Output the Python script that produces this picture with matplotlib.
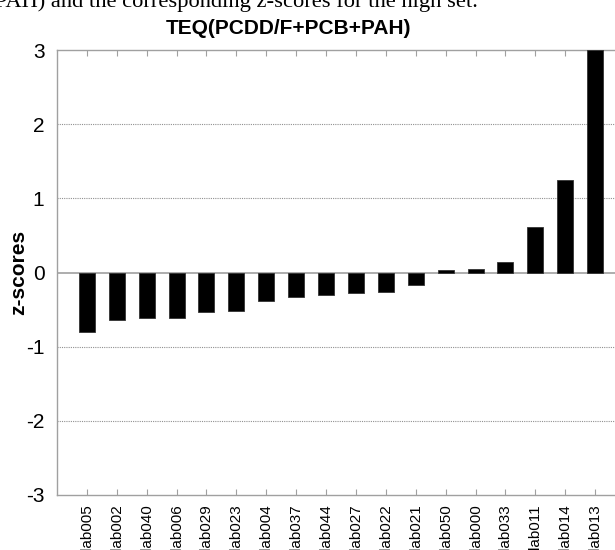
import numpy as np
import matplotlib
matplotlib.use('Agg')
import matplotlib.pyplot as plt

labs = ['lab005', 'lab002', 'lab040', 'lab006', 'lab029', 'lab023', 'lab004', 'lab037', 'lab044',
        'lab027', 'lab022', 'lab021', 'lab050', 'lab000', 'lab033', 'lab011', 'lab014', 'lab013']
zscores = [-0.80, -0.64, -0.62, -0.61, -0.53, -0.52, -0.38, -0.33, -0.31,
           -0.27, -0.26, -0.17, 0.03, 0.045, 0.135, 0.62, 1.25, 3.0]
yticks = [-3, -2, -1, 0, 1, 2, 3]

plt.rcParams['font.family'] = ['Liberation Sans', 'DejaVu Sans']
plt.rcParams['axes.unicode_minus'] = False

fig = plt.figure(figsize=(6.15, 5.5), dpi=100)
ax = fig.add_axes([57 / 615, 55 / 550, 568 / 615, 445 / 550])

x = np.arange(1, len(zscores) + 1)
ax.bar(x, zscores, width=0.535, color='black', edgecolor='#333333', linewidth=0.6, zorder=3)

ax.set_xlim(0, len(zscores) + 1)
ax.set_ylim(-3, 3)
ax.set_yticks(yticks)
ax.set_yticklabels([str(v) for v in yticks], fontsize=15)
ax.set_xticks(x)
ax.set_xticklabels(labs, rotation=90, fontsize=11)

# dotted grid, solid baseline at zero
for v in [-2, -1, 1, 2]:
    ax.axhline(v, color='#909090', linestyle=(0, (1, 1)), linewidth=0.8, zorder=1)
ax.axhline(0, color='#a0a0a0', linewidth=1.2, zorder=2)

for s in ax.spines.values():
    s.set_color('#a0a0a0')
    s.set_linewidth(1.0)

ax.tick_params(axis='x', direction='in', length=4, color='#a0a0a0', top=True, pad=7)
ax.tick_params(axis='y', direction='in', length=0, pad=9)

ax.set_ylabel('z-scores', fontsize=15, fontweight='bold')
ax.yaxis.set_label_coords(-0.05, 0.5)

fig.text(288 / 615, 1 - 28 / 550, 'TEQ(PCDD/F+PCB+PAH)', fontsize=15, fontweight='bold',
         ha='center', va='center')
# caption line of the paper, cut off at the top
fig.text(-5 / 615, 1 - 7.5 / 550, 'PAH) and the corresponding z-scores for the high set.',
         family=['Liberation Serif'], fontsize=16.2, ha='left', va='baseline')

fig.savefig('out.png', dpi=100)
